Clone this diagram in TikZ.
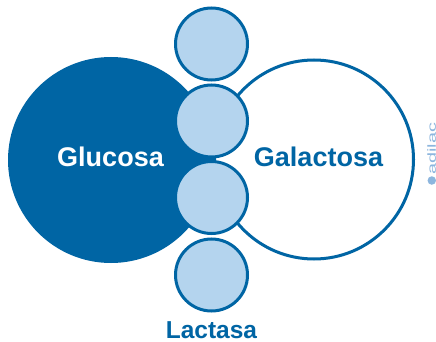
\documentclass[tikz,border=0pt]{standalone}
\usepackage{fontspec}
\setmainfont{Liberation Sans}
\usepackage{graphicx}
\definecolor{dblue}{HTML}{0065A4}
\definecolor{lblue}{HTML}{B4D4EE}
\definecolor{wblue}{HTML}{8DB6DE}
\tikzset{
  enzyme/.style={circle, draw=dblue, fill=lblue, line width=3pt, minimum size=72pt, inner sep=0pt},
  lab/.style={font=\bfseries\fontsize{27}{27}\selectfont, anchor=base, inner sep=0pt}
}
\begin{document}
\begin{tikzpicture}[x=1pt,y=-1pt]
\useasboundingbox (0,0) rectangle (436,342);
\fill[white] (0,0) rectangle (436,342);
% Glucosa
\node[circle, fill=dblue, minimum size=206pt, inner sep=0pt] (glu) at (111,160) {};
% Galactosa
\node[circle, draw=dblue, fill=white, line width=3pt, minimum size=199pt, inner sep=0pt] (gal) at (314,159.5) {};
% Lactasa circles
\node[enzyme] (e1) at (211.5,44) {};
\node[enzyme] (e2) at (211.5,121) {};
\node[enzyme] (e3) at (211.5,197.5) {};
\node[enzyme] (e4) at (211.5,275) {};
% labels
\node[lab, text=white] (tglu) at (110.5,166.5) {Glucosa};
\node[lab, text=dblue] (tgal) at (318.5,166.5) {Galactosa};
\node[lab, text=dblue, font=\bfseries\fontsize{24.5}{24.5}\selectfont] (tlac) at (211.5,338.5) {Lactasa};
% watermark
\node[rotate=90, anchor=west, inner sep=0pt, text=wblue] (wm) at (431.8,175) {\resizebox{52pt}{8.5pt}{adilac}};
\node[circle, fill=wblue, minimum size=8.5pt, inner sep=0pt] (logo) at (431.8,180.5) {};
\end{tikzpicture}
\end{document}
